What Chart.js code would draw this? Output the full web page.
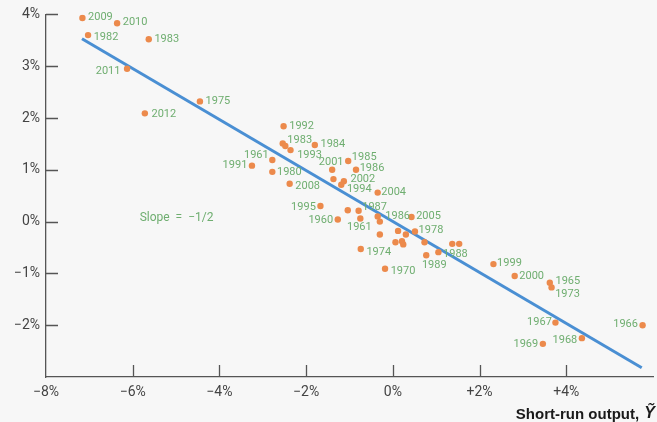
<!DOCTYPE html>
<html>
<head>
    <title>Short-run output and the change in inflation</title>
    <script src="https://cdn.jsdelivr.net/npm/chart.js"></script>
    <style>
        html, body {
            margin: 0;
            padding: 0;
            background-color: #f7f7f7;
        }
        #wrap {
            width: 657px;
            height: 422px;
        }
    </style>
</head>
<body>
    <div id="wrap">
        <canvas id="phillipsChart" width="657" height="422"></canvas>
    </div>

    <script>
        // short-run output (%), change in inflation (percentage points), year label
        const outputGap = [
            -7.16, -6.36, -7.03, -5.63, -6.13, -4.45, -5.72,
            -2.52, -2.54, -2.48, -2.36, -1.80, -2.78, -3.25, -1.03, -1.40, -0.85,
            -2.78, -2.38, -1.37, -1.13, -1.19, -0.35, -1.67, -1.27, -1.04, -0.79,
            -0.75, -0.35, -0.30, 0.43, 0.51, -0.30, 0.12, 0.30, 0.06, 0.21, 0.24,
            0.73, -0.74, -0.18, 0.77, 1.05, 1.37, 1.53, 2.32, 2.81, 3.62, 3.66,
            3.75, 5.76, 4.36, 3.46
        ];
        const inflationChange = [
            3.93, 3.83, 3.60, 3.52, 2.95, 2.32, 2.09,
            1.84, 1.51, 1.46, 1.38, 1.48, 1.19, 1.08, 1.17, 1.00, 1.00,
            0.96, 0.73, 0.82, 0.78, 0.71, 0.56, 0.30, 0.04, 0.22, 0.21,
            0.06, 0.10, 0.00, 0.09, -0.19, -0.25, -0.18, -0.25, -0.40, -0.38, -0.44,
            -0.40, -0.53, -0.91, -0.65, -0.59, -0.43, -0.43, -0.82, -1.05, -1.18, -1.27,
            -1.95, -2.00, -2.25, -2.36
        ];
        const years = [
            '2009', '2010', '1982', '1983', '2011', '1975', '2012',
            '1992', '1983', '', '1993', '1984', '1961', '1991', '1985', '2001', '1986',
            '1980', '2008', '', '2002', '1994', '2004', '1995', '1960', '', '1987',
            '1961', '1986', '', '2005', '1978', '', '', '', '', '', '',
            '', '1974', '1970', '1989', '1988', '', '', '1999', '2000', '1965', '1973',
            '1967', '1966', '1968', '1969'
        ];

        // fitted line end points
        const fitX = [-7.17, 5.74];
        const fitY = [3.53, -2.82];

        const xTickValues = [-8, -6, -4, -2, 0, 2, 4];
        const xTickLabels = ['\u22128%', '\u22126%', '\u22124%', '\u22122%', '0%', '+2%', '+4%'];
        const yTickValues = [4, 3, 2, 1, 0, -1, -2];
        const yTickLabels = ['4%', '3%', '2%', '1%', '0%', '\u22121%', '\u22122%'];

        // where each year label sits relative to its dot (px), same order as years
        const labelNudge = [
            [18, -1], [18, -1], [18, 2], [18, 0], [-19, 2], [18, 0], [19, 1],
            [18, 0], [17, -3], null, [19, 5], [18, -1], [-16, -5], [-17, 0], [16, -4], [-1, -8], [16, -2],
            [17, 0], [18, 2], null, [19, -2], [18, 4], [16, 0], [-17, 1], [-17, 1], null, [16, -3],
            [-1, 9], [20, 0], null, [17, -1], [16, -1], null, null, null, null, null, null,
            null, [18, 3], [18, 3], [8, 10], [17, 2], null, null, [16, -1], [17, 0], [18, -1], [16, 7],
            [-16, 0], [-17, -1], [-17, 2], [-17, 0]
        ];

        const green = '#6fae70';
        const axisColor = '#555555';

        const points = outputGap.map((x, i) => ({ x: x, y: inflationChange[i] }));
        const fitLine = fitX.map((x, i) => ({ x: x, y: fitY[i] }));

        // background, inward tick marks, year labels and axis title
        const decorations = {
            id: 'decorations',
            beforeDraw(chart) {
                const ctx = chart.ctx;
                ctx.save();
                ctx.fillStyle = '#f7f7f7';
                ctx.fillRect(0, 0, chart.width, chart.height);
                ctx.restore();
            },
            beforeDatasetsDraw(chart) {
                const ctx = chart.ctx;
                const xs = chart.scales.x;
                const ys = chart.scales.y;
                const area = chart.chartArea;
                ctx.save();
                ctx.strokeStyle = axisColor;
                ctx.lineWidth = 1.3;
                ctx.beginPath();
                xTickValues.forEach(v => {
                    if (v === xs.min) return;
                    const px = Math.round(xs.getPixelForValue(v)) + 0.5;
                    ctx.moveTo(px, area.bottom);
                    ctx.lineTo(px, area.bottom - 12);
                });
                yTickValues.forEach(v => {
                    const py = Math.round(ys.getPixelForValue(v)) + 0.5;
                    ctx.moveTo(area.left, py);
                    ctx.lineTo(area.left + 12, py);
                });
                ctx.stroke();

                // slope note
                ctx.fillStyle = green;
                ctx.font = '12px Roboto, "Liberation Sans", sans-serif';
                ctx.textAlign = 'left';
                ctx.textBaseline = 'middle';
                ctx.fillText('Slope  =  \u22121/2', xs.getPixelForValue(-5.84), ys.getPixelForValue(0.07));
                ctx.restore();
            },
            afterDatasetsDraw(chart) {
                const ctx = chart.ctx;
                const xs = chart.scales.x;
                const ys = chart.scales.y;
                ctx.save();
                ctx.fillStyle = green;
                ctx.font = '11px Roboto, "Liberation Sans", sans-serif';
                ctx.textAlign = 'center';
                ctx.textBaseline = 'middle';
                years.forEach((yr, i) => {
                    if (!yr || !labelNudge[i]) return;
                    const px = xs.getPixelForValue(outputGap[i]) + labelNudge[i][0];
                    const py = ys.getPixelForValue(inflationChange[i]) + labelNudge[i][1];
                    ctx.fillText(yr, px, py);
                });

                // x axis title, right aligned at the bottom
                ctx.fillStyle = '#1a1a1a';
                ctx.textAlign = 'right';
                ctx.textBaseline = 'middle';
                ctx.font = 'italic bold 16px "Liberation Sans", Arial, sans-serif';
                const yMark = '\u1EF8';
                const markW = ctx.measureText(yMark).width;
                ctx.fillText(yMark, 655, 414);
                ctx.font = 'bold 15px "Liberation Sans", Arial, sans-serif';
                ctx.fillText('Short-run output, ', 655 - markW - 1, 415);
                ctx.restore();
            }
        };

        const ctx = document.getElementById('phillipsChart').getContext('2d');
        const chart = new Chart(ctx, {
            type: 'scatter',
            data: {
                datasets: [
                    {
                        label: 'Fit',
                        type: 'line',
                        data: fitLine,
                        borderColor: '#4a8fd3',
                        borderWidth: 3,
                        pointRadius: 0,
                        fill: false,
                        order: 2
                    },
                    {
                        label: 'Years',
                        data: points,
                        backgroundColor: '#ec8a4c',
                        borderWidth: 0,
                        pointRadius: 3.2,
                        order: 1
                    }
                ]
            },
            options: {
                responsive: false,
                animation: false,
                layout: {
                    padding: { top: 14, right: 1, bottom: 0, left: 0 }
                },
                plugins: {
                    legend: { display: false },
                    tooltip: { enabled: false }
                },
                scales: {
                    x: {
                        type: 'linear',
                        min: -8,
                        max: 6,
                        afterBuildTicks: scale => {
                            scale.ticks = xTickValues.map(v => ({ value: v }));
                        },
                        afterFit: scale => { scale.height = 45; },
                        grid: { display: false, drawTicks: false },
                        border: { display: true, color: axisColor, width: 1.3 },
                        ticks: {
                            padding: 7,
                            color: '#444444',
                            font: { family: 'Roboto', size: 14 },
                            maxRotation: 0,
                            autoSkip: false,
                            callback: v => {
                                const i = xTickValues.indexOf(v);
                                return i < 0 ? '' : xTickLabels[i];
                            }
                        }
                    },
                    y: {
                        type: 'linear',
                        min: -3,
                        max: 4,
                        afterBuildTicks: scale => {
                            scale.ticks = yTickValues.map(v => ({ value: v }));
                        },
                        afterFit: scale => { scale.width = 46; },
                        grid: { display: false, drawTicks: false },
                        border: { display: true, color: axisColor, width: 1.3 },
                        ticks: {
                            padding: 6,
                            color: '#444444',
                            font: { family: 'Roboto', size: 14 },
                            autoSkip: false,
                            callback: v => {
                                const i = yTickValues.indexOf(v);
                                return i < 0 ? '' : yTickLabels[i];
                            }
                        }
                    }
                }
            },
            plugins: [decorations]
        });
    </script>
</body>
</html>
